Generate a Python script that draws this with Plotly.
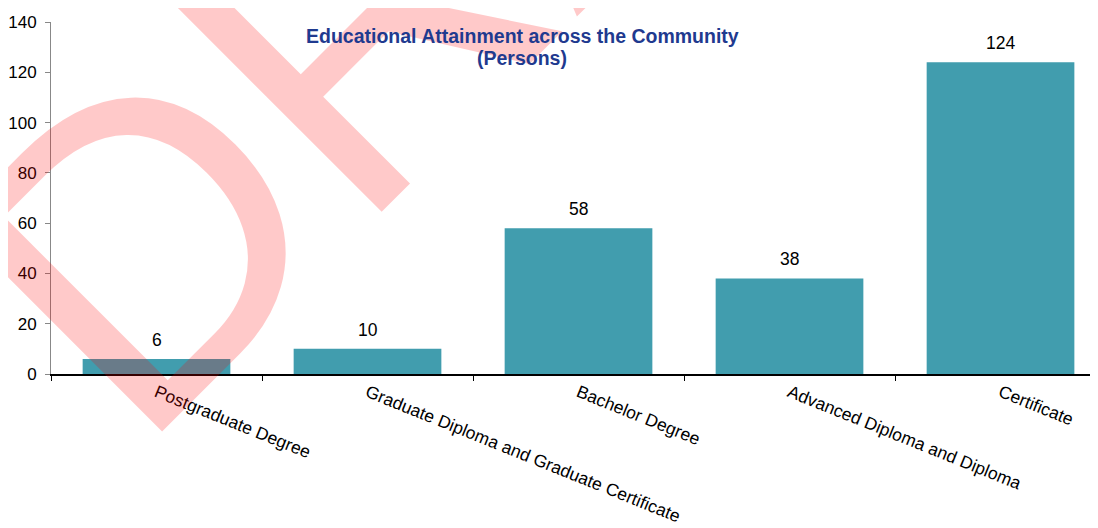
import plotly.graph_objects as go

categories = [
    "Postgraduate Degree",
    "Graduate Diploma and Graduate Certificate",
    "Bachelor Degree",
    "Advanced Diploma and Diploma",
    "Certificate",
]
persons = [6, 10, 58, 38, 124]
y_ticks = [0, 20, 40, 60, 80, 100, 120, 140]

title_line1 = "Educational Attainment across the Community"
title_line2 = "(Persons)"
watermark = "DRAFT"

FONT = "Liberation Sans, Arial, sans-serif"
BAR = "#419DAE"
TITLE_COLOR = "#1F3A8F"

fig = go.Figure()
fig.add_trace(go.Bar(
    x=categories, y=persons, width=0.70,
    marker=dict(color=BAR, line=dict(width=0)),
    showlegend=False, hoverinfo="x+y",
))

annotations = []
# watermark first (drawn beneath later annotations)
annotations.append(dict(
    text=watermark, xref="paper", yref="paper", x=0.466, y=1.505,
    xanchor="center", yanchor="middle", showarrow=False, textangle=-45,
    font=dict(family=FONT, size=430, color="rgba(255,0,0,0.21)"),
))
for c, v in zip(categories, persons):
    annotations.append(dict(
        text=str(v), x=c, y=v, xref="x", yref="y", showarrow=False,
        yanchor="bottom", yshift=7,
        font=dict(family=FONT, size=17.5, color="#000000"),
    ))
annotations.append(dict(
    text="<b>" + title_line1 + "</b>",
    xref="paper", yref="paper", x=0.45, y=0.960, xanchor="center", yanchor="middle",
    showarrow=False, font=dict(family=FONT, size=19.5, color=TITLE_COLOR),
))
annotations.append(dict(
    text="<b>" + title_line2 + "</b>",
    xref="paper", yref="paper", x=0.45, y=0.898, xanchor="center", yanchor="middle",
    showarrow=False, font=dict(family=FONT, size=19.5, color=TITLE_COLOR),
))

fig.update_layout(
    width=1098, height=528,
    margin=dict(l=43, r=8, t=14, b=162, pad=0),
    paper_bgcolor="white", plot_bgcolor="white",
    annotations=annotations,
    bargap=0.3,
    xaxis=dict(
        type="category", range=[-0.5, 4.462], automargin=False,
        showline=True, linecolor="#000000", linewidth=1.5,
        ticks="outside", tickson="boundaries", ticklen=5, tickcolor="#000000",
        tickangle=22, showgrid=False, zeroline=False,
        tickfont=dict(family=FONT, size=17.5, color="#000000"),
    ),
    yaxis=dict(
        range=[0, 140], tickvals=y_ticks, automargin=False,
        showline=True, linecolor="#888888", linewidth=1,
        ticks="outside", ticklen=5, tickcolor="#888888",
        ticklabelstandoff=5,
        showgrid=False, zeroline=False,
        tickfont=dict(family=FONT, size=17, color="#000000"),
    ),
)

fig.write_html("out.html")
